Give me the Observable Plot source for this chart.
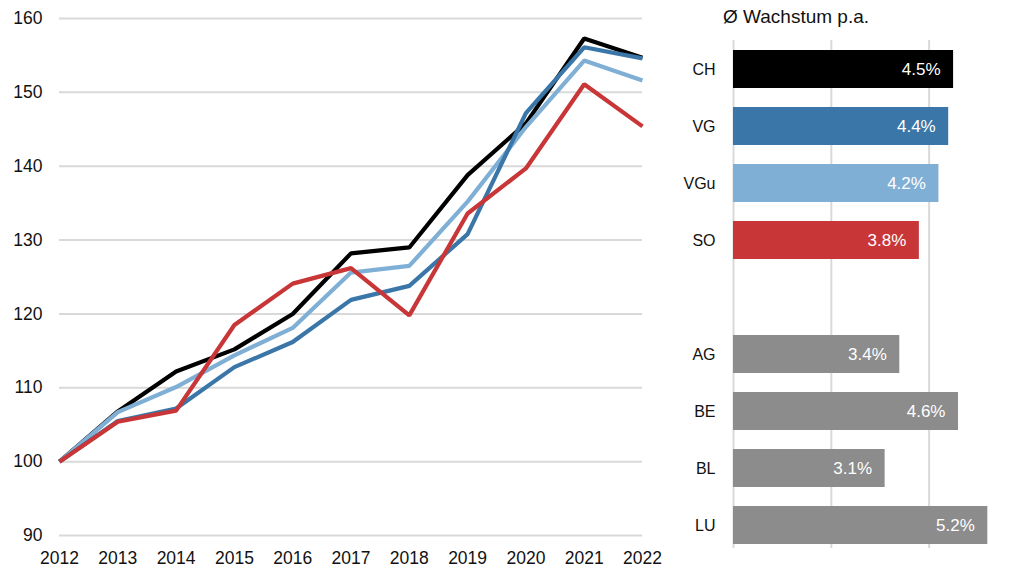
<!DOCTYPE html>
<html>
<head>
<meta charset="utf-8">
<script src="https://cdn.jsdelivr.net/npm/d3@7"></script>
<script src="https://cdn.jsdelivr.net/npm/@observablehq/plot@0.6"></script>
<style>
  html, body { margin: 0; padding: 0; background: #fff; }
  #wrap { position: relative; width: 1015px; height: 569px; font-family: "Liberation Sans", Arial, sans-serif; }
  #left { position: absolute; left: 0; top: 0; }
  #right { position: absolute; left: 680px; top: 0; }
  #title { position: absolute; left: 723px; top: 6px; font-size: 19px; color: #111; }
  svg { overflow: visible; }
  #left g[aria-label="x-axis tick label"] text, #left g[aria-label="y-axis tick label"] text { font-size: 17.5px; }
  #right g[aria-label="y-axis tick label"] text { font-size: 16px; }
</style>
</head>
<body>
<div id="wrap">
  <div id="left"></div>
  <div id="right"></div>
  <div id="title">Ø Wachstum p.a.</div>
</div>
<script>
const years = [2012, 2013, 2014, 2015, 2016, 2017, 2018, 2019, 2020, 2021, 2022];
const ch  = [100, 106.8, 112.2, 115.2, 120.0, 128.2, 129.0, 138.8, 145.8, 157.3, 154.7];
const vg  = [100, 105.5, 107.2, 112.8, 116.2, 121.9, 123.8, 130.8, 147.2, 156.1, 154.6];
const vgu = [100, 106.7, 110.1, 114.4, 118.1, 125.6, 126.5, 135.2, 145.3, 154.3, 151.6];
const so  = [100, 105.4, 106.9, 118.5, 124.1, 126.2, 119.8, 133.6, 139.7, 151.1, 145.4];
const yTicks = [90, 100, 110, 120, 130, 140, 150, 160];

const barCats = ["CH", "VG", "VGu", "SO", " ", "AG", "BE", "BL", "LU"];
const barCatsData = ["CH", "VG", "VGu", "SO", "AG", "BE", "BL", "LU"];
const growth = [4.5, 4.4, 4.2, 3.8, 3.4, 4.6, 3.1, 5.2];
const barColors = ["#000000", "#3a76a7", "#80afd5", "#c83638", "#8c8c8c", "#8c8c8c", "#8c8c8c", "#8c8c8c"];
const gridX = [0, 2, 4];

const seriesNames = ["CH", "VGu", "VG", "SO"];
const seriesVals = [ch, vgu, vg, so];
const seriesColors = {CH: "#000000", VG: "#3a76a7", VGu: "#80afd5", SO: "#c83638"};

const lineData = [];
seriesNames.forEach((s, i) => years.forEach((y, j) => lineData.push({series: s, year: y, value: seriesVals[i][j]})));

const left = Plot.plot({
  width: 680, height: 569,
  marginLeft: 59, marginRight: 38, marginTop: 18, marginBottom: 34,
  style: {fontFamily: "Liberation Sans, Arial, sans-serif", fontSize: "17.5px", color: "#111", background: "transparent"},
  x: {domain: [2012, 2022], label: null},
  y: {domain: [90, 160], label: null},
  marks: [
    Plot.gridY(yTicks, {stroke: "#d9d9d9", strokeOpacity: 1, strokeWidth: 2}),
    Plot.axisX({ticks: years, tickFormat: d => String(d), tickSize: 0, tickPadding: 16, label: null}),
    Plot.axisY({ticks: yTicks, tickSize: 0, tickPadding: 17, label: null}),
    Plot.line(lineData, {x: "year", y: "value", z: "series", stroke: d => seriesColors[d.series], strokeWidth: 4.2, strokeLinejoin: "miter", strokeLinecap: "butt"})
  ]
});
document.getElementById("left").appendChild(left);

const barData = barCatsData.map((c, i) => ({cat: c, value: growth[i], color: barColors[i]}));

const right = Plot.plot({
  width: 335, height: 569,
  marginLeft: 53, marginRight: 13, marginTop: 40, marginBottom: 15,
  style: {fontFamily: "Liberation Sans, Arial, sans-serif", fontSize: "16px", color: "#111", background: "transparent"},
  x: {domain: [0, 5.5], axis: null},
  y: {domain: barCats, paddingInner: 0.333, paddingOuter: 0.167, label: null},
  marks: [
    Plot.ruleX(gridX, {stroke: "#d9d9d9", strokeWidth: 2, insetBottom: 6}),
    Plot.axisY({tickSize: 0, tickPadding: 18, label: null, tickFormat: d => d.trim()}),
    Plot.barX(barData, {x: "value", y: "cat", fill: d => d.color}),
    Plot.text(barData, {x: "value", y: "cat", text: d => d.value.toFixed(1) + "%", textAnchor: "end", dx: -13, fill: "#ffffff", fontSize: 17})
  ]
});
document.getElementById("right").appendChild(right);
</script>
</body>
</html>
